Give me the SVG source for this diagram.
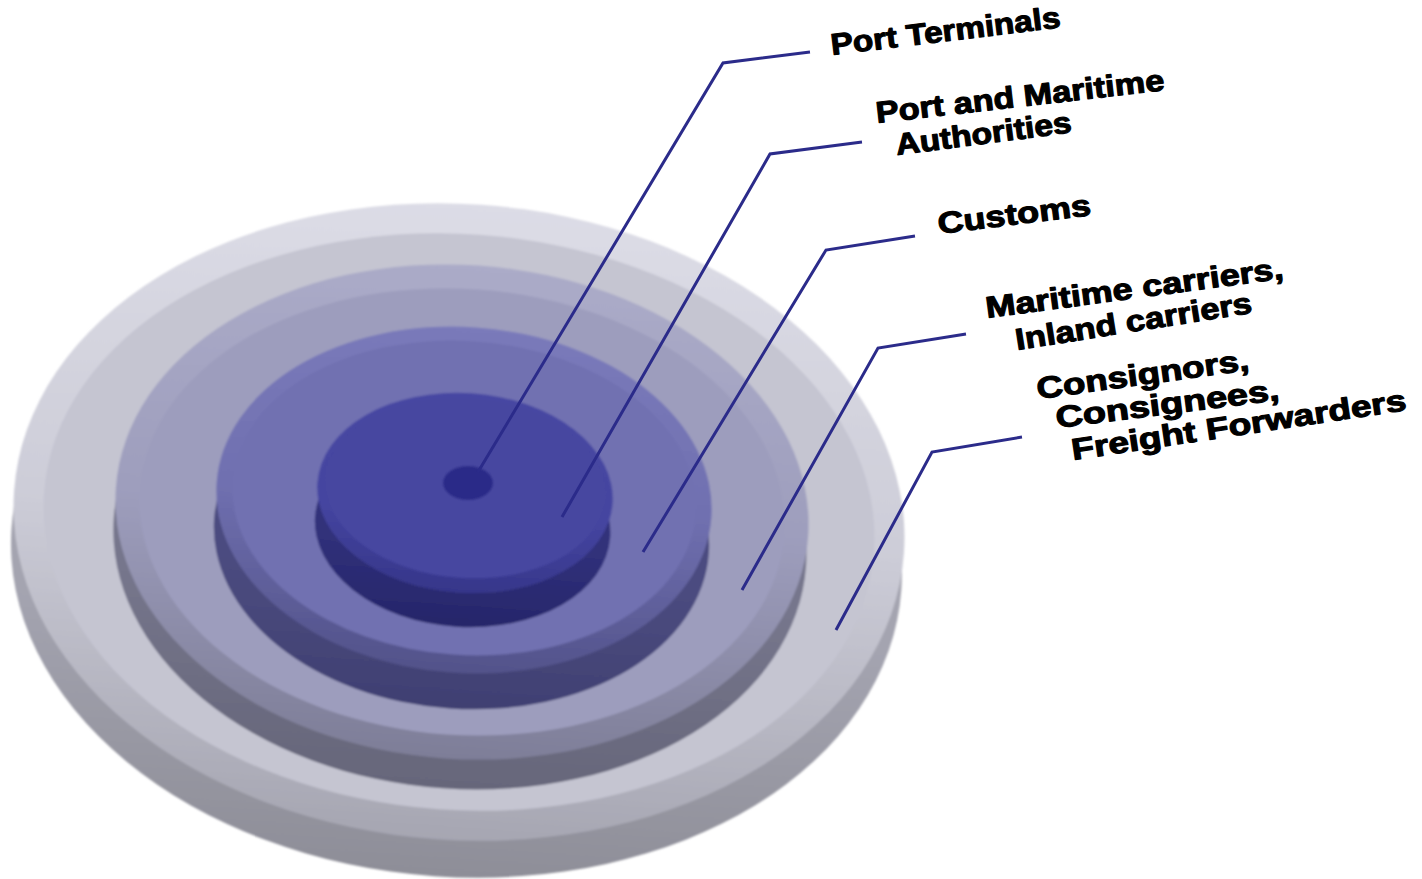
<svg xmlns="http://www.w3.org/2000/svg" width="1422" height="879" viewBox="0 0 1422 879">
<style>
.lbl{font-family:"Liberation Sans",Arial,sans-serif;font-weight:bold;font-size:30px;fill:#000;stroke:#000;stroke-width:1.1;stroke-linejoin:round}
.lead{fill:none;stroke:#2b2b8a;stroke-width:3;stroke-linejoin:miter}
</style>
<defs>
<linearGradient id="b4" x1="0" y1="0" x2="0" y2="1"><stop offset="0" stop-color="#dcdce6"/><stop offset="0.5" stop-color="#cdcdd8"/><stop offset="1" stop-color="#a6a6b2"/></linearGradient>
<linearGradient id="s4" x1="0" y1="0" x2="0" y2="1"><stop offset="0.6" stop-color="#a4a4b0"/><stop offset="1" stop-color="#8e8e98"/></linearGradient>
<linearGradient id="b3" x1="0" y1="0" x2="0" y2="1"><stop offset="0" stop-color="#ababc8"/><stop offset="0.5" stop-color="#9e9ebd"/><stop offset="1" stop-color="#7e7e98"/></linearGradient>
<linearGradient id="s3" x1="0" y1="0" x2="0" y2="1"><stop offset="0.6" stop-color="#76768c"/><stop offset="1" stop-color="#66667a"/></linearGradient>
<linearGradient id="b2" x1="0" y1="0" x2="0" y2="1"><stop offset="0" stop-color="#7a7aba"/><stop offset="0.5" stop-color="#7070b0"/><stop offset="1" stop-color="#52528a"/></linearGradient>
<linearGradient id="s2" x1="0" y1="0" x2="0" y2="1"><stop offset="0.6" stop-color="#4c4c80"/><stop offset="1" stop-color="#404072"/></linearGradient>
<linearGradient id="b1" x1="0" y1="0" x2="0" y2="1"><stop offset="0" stop-color="#4747a2"/><stop offset="0.6" stop-color="#4545a0"/><stop offset="1" stop-color="#36368a"/></linearGradient>
<linearGradient id="s1" x1="0" y1="0" x2="0" y2="1"><stop offset="0.6" stop-color="#30307a"/><stop offset="1" stop-color="#26266a"/></linearGradient>
<filter id="soft" x="-5%" y="-5%" width="110%" height="110%"><feGaussianBlur stdDeviation="0.8"/></filter>
</defs>
<rect width="1422" height="879" fill="#ffffff"/>
<g id="discs" filter="url(#soft)">
<g id="disc4" transform="rotate(4 459 522)">
<ellipse cx="459" cy="559" rx="446" ry="318" fill="url(#s4)"/>
<ellipse cx="459" cy="522" rx="446" ry="318" fill="url(#b4)"/>
<ellipse cx="459" cy="522" rx="416" ry="288" fill="#c5c5d1"/>
</g>
<g id="disc3" transform="rotate(4 462 512)">
<ellipse cx="462" cy="542" rx="347" ry="247" fill="url(#s3)"/>
<ellipse cx="462" cy="512" rx="347" ry="247" fill="url(#b3)"/>
<ellipse cx="462" cy="512" rx="323" ry="223" fill="#9d9dbd"/>
</g>
<g id="disc2" transform="rotate(4 464 500)">
<ellipse cx="464" cy="536" rx="248" ry="173" fill="url(#s2)"/>
<ellipse cx="464" cy="500" rx="248" ry="173" fill="url(#b2)"/>
<ellipse cx="464" cy="498" rx="232" ry="157" fill="#7171b1"/>
</g>
<g id="disc1" transform="rotate(4 465 493)">
<ellipse cx="465" cy="527" rx="148" ry="100" fill="url(#s1)"/>
<ellipse cx="465" cy="493" rx="148" ry="100" fill="url(#b1)"/>
<ellipse cx="465" cy="488" rx="140" ry="90" fill="#4646a0"/>
</g>
<g id="core">
<ellipse cx="468" cy="483" rx="25" ry="17" fill="#2b2b88"/>
</g>
</g>
<g id="connectors">
<polyline class="lead" points="478,472 723,63 810,52"/>
<polyline class="lead" points="562,517 770,154 862,142"/>
<polyline class="lead" points="643,552 826,250 915,236"/>
<polyline class="lead" points="742,590 878,348 966,334"/>
<polyline class="lead" points="836,630 932,452 1022,437"/>
</g>
<g id="label-port-terminals">
<text class="lbl" transform="translate(832,55) rotate(-6.9)" textLength="231" lengthAdjust="spacingAndGlyphs">Port Terminals</text>
</g>
<g id="label-authorities">
<text class="lbl" transform="translate(877,123) rotate(-6.5)" textLength="290" lengthAdjust="spacingAndGlyphs">Port and Maritime</text>
<text class="lbl" transform="translate(897,155) rotate(-7.4)" textLength="177" lengthAdjust="spacingAndGlyphs">Authorities</text>
</g>
<g id="label-customs">
<text class="lbl" transform="translate(939,234) rotate(-7.1)" textLength="154" lengthAdjust="spacingAndGlyphs">Customs</text>
</g>
<g id="label-carriers">
<text class="lbl" transform="translate(987,318) rotate(-7.6)" textLength="300" lengthAdjust="spacingAndGlyphs">Maritime carriers,</text>
<text class="lbl" transform="translate(1017,350) rotate(-9)" textLength="239" lengthAdjust="spacingAndGlyphs">Inland carriers</text>
</g>
<g id="label-consignors">
<text class="lbl" transform="translate(1038,399) rotate(-7.8)" textLength="214" lengthAdjust="spacingAndGlyphs">Consignors,</text>
<text class="lbl" transform="translate(1057,428) rotate(-7.2)" textLength="225" lengthAdjust="spacingAndGlyphs">Consignees,</text>
<text class="lbl" transform="translate(1073,460) rotate(-8.5)" textLength="338" lengthAdjust="spacingAndGlyphs">Freight Forwarders</text>
</g>
</svg>
